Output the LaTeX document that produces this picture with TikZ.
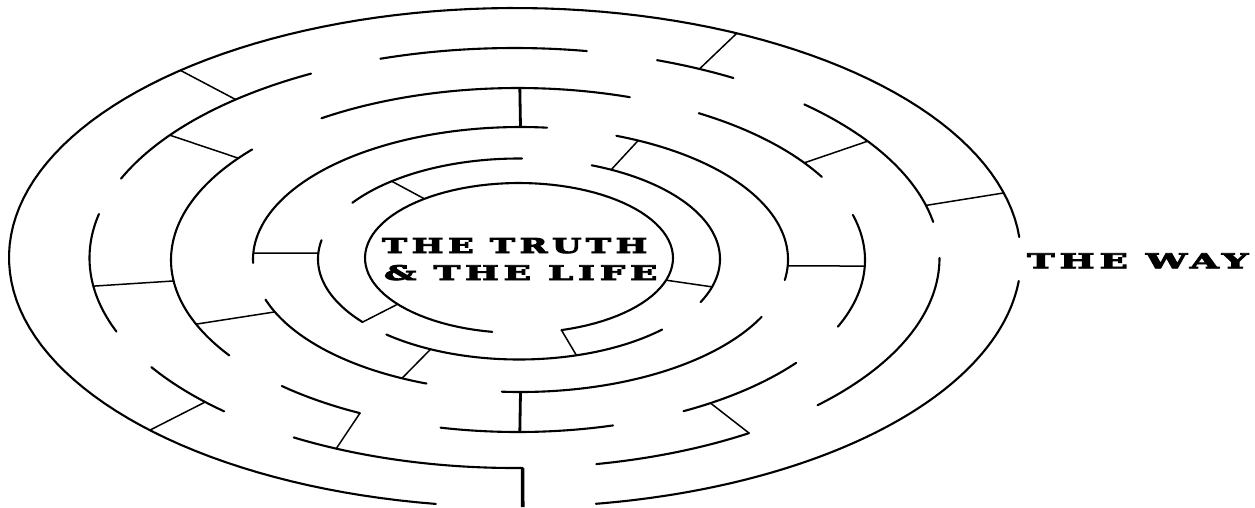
\documentclass[tikz,border=0pt]{standalone}
\usepackage{fontspec}
\usepackage{graphicx}
\newfontfamily\mazefont{DejaVu Serif Bold}[FakeBold=4, LetterSpace=14]
\tikzset{
  wall/.style={line width=2.1pt, line join=round, line cap=round},
  rung/.style={line width=1.5pt},
  mazebar/.style={line width=2.8pt},
  exitbar/.style={line width=3.6pt},
  txt/.style={inner sep=0pt, anchor=south west},
}
% ring arcs (angles measured clockwise in the image, 90 = bottom)
\newcommand\arcA[2]{\draw[wall] plot[domain=#1:#2, samples=120] ({515+506*cos(\x)},{257.5+249.5*sin(\x)});}
\newcommand\arcB[2]{\draw[wall] plot[domain=#1:#2, samples=100] ({514.5+425*cos(\x)},{258+210*sin(\x)});}
\newcommand\arcC[2]{\draw[wall] plot[domain=#1:#2, samples=90] ({518+347*cos(\x)},{260+172*sin(\x)});}
\newcommand\arcD[2]{\draw[wall] plot[domain=#1:#2, samples=80] ({520.5+267.5*cos(\x)},{259.5+132.5*sin(\x)});}
\newcommand\arcE[2]{\draw[wall] plot[domain=#1:#2, samples=70] ({519+201*cos(\x)},{259+100.5*sin(\x)});}
\newcommand\arcF[2]{\draw[wall] plot[domain=#1:#2, samples=100] ({519+154*cos(\x)},{258+75*sin(\x)});}
% points on rings
\def\PA#1{({515+506*cos(#1)},{257.5+249.5*sin(#1)})}
\def\PB#1{({514.5+425*cos(#1)},{258+210*sin(#1)})}
\def\PC#1{({518+347*cos(#1)},{260+172*sin(#1)})}
\def\PD#1{({520.5+267.5*cos(#1)},{259.5+132.5*sin(#1)})}
\def\PE#1{({519+201*cos(#1)},{259+100.5*sin(#1)})}
\def\PF#1{({519+154*cos(#1)},{258+75*sin(#1)})}
\begin{document}
\begin{tikzpicture}[x=1pt,y=-1pt]
\fill[white] (0,0) rectangle (1255,507);
\useasboundingbox (0,0) rectangle (1255,507);
% ring 1 (outer)
\arcA{5.4}{80.8}
\arcA{99}{355.3}
% ring 2
\arcB{0}{44.5}
\arcB{56.5}{78.9}
\arcB{88.9}{121.3}
\arcB{133.1}{148.7}
\arcB{159.5}{192.1}
\arcB{202.2}{241.4}
\arcB{251.6}{279.8}
\arcB{289.6}{301}
\arcB{313}{350.1}
% ring 3
\arcC{-15.2}{22.8}
\arcC{36.7}{61.5}
\arcC{74.1}{102.9}
\arcC{117.1}{132.9}
\arcC{146.3}{220}
\arcC{235.5}{288.8}
\arcC{301.4}{331.1}
% ring 4
\arcD{-69}{8.9}
\arcD{25.7}{94}
\arcD{110.6}{162.4}
\arcD{178.5}{275.7}
% ring 5
\arcE{-68.8}{25.4}
\arcE{44.6}{131.3}
\arcE{141.1}{190.8}
\arcE{214}{270.9}
% ring 6 (around the text)
\arcF{100}{434}
% cross walls ring 1 - ring 2
\draw[rung] \PA{228.6} -- \PB{229};
\draw[rung] \PA{296} -- \PB{295.8};
\draw[rung] \PA{345} -- \PB{345.5};
\draw[rung] \PA{136.2} -- \PB{136.7};
\draw[exitbar] \PB{88.9} -- (522.7,507);
% ring 2 - ring 3
\draw[rung] \PB{172.3} -- \PC{173};
\draw[rung] \PB{215.8} -- \PC{216.3};
\draw[rung] \PB{114.8} -- \PC{117.1};
\draw[rung] \PB{56.5} -- \PC{56.3};
\draw[rung] \PB{326.2} -- \PC{325.6};
% ring 3 - ring 4
\draw[rung] \PC{158.1} -- \PD{156.7};
\draw[mazebar] \PC{270.3} -- \PD{270};
\draw[mazebar] \PD{90} -- \PC{89.7};
\draw[rung] \PD{2.8} -- \PC{2};
% ring 4 - ring 5
\draw[rung] \PD{182.8} -- \PE{183.4};
\draw[rung] \PD{116.3} -- \PE{116.1};
\draw[rung] \PD{296.1} -- \PE{297.3};
% ring 5 - ring 6
\draw[rung] \PE{230.7} -- \PF{232.1};
\draw[rung] \PE{141.1} -- \PF{142};
\draw[rung] \PE{16.1} -- \PF{17.2};
\draw[rung] \PE{73.4} -- \PF{74};
% texts
\node[txt] (truth) at (382,253.5) {\resizebox{265pt}{15pt}{\mazefont THE TRUTH}};
\node[txt] (life) at (384,280.5) {\resizebox{273pt}{15pt}{\mazefont \& THE LIFE}};
\node[txt] (way) at (1027,268.5) {\resizebox{221pt}{15pt}{\mazefont THE WAY}};
\end{tikzpicture}
\end{document}
